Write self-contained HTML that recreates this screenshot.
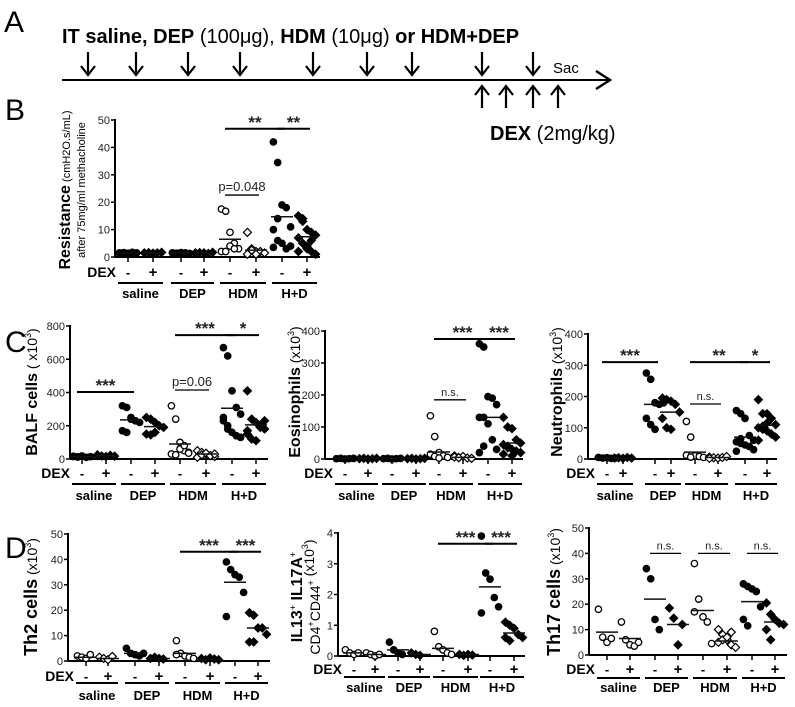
<!DOCTYPE html>
<html><head><meta charset="utf-8"><style>
body{margin:0;background:#fff;}
svg{display:block;font-family:"Liberation Sans",Arial,sans-serif;}
</style></head><body>
<svg id="fig" width="795" height="707" viewBox="0 0 795 707" xmlns="http://www.w3.org/2000/svg">
<g>
<text x="4" y="32" font-size="30">A</text>
<text x="62" y="43" font-size="20"><tspan font-weight="bold">IT saline, DEP</tspan> (100μg), <tspan font-weight="bold">HDM</tspan> (10μg) <tspan font-weight="bold">or HDM+DEP</tspan></text>
<line x1="62" y1="80" x2="608" y2="80" stroke="#000" stroke-width="2"/>
<path d="M596 71 L610 80 L596 89" fill="none" stroke="#000" stroke-width="2.5"/>
<text x="553" y="73" font-size="15">Sac</text>
<text x="490" y="140" font-size="20"><tspan font-weight="bold">DEX</tspan> (2mg/kg)</text>
<g id="arrows"></g>
</g>
<text x="5" y="120" font-size="30">B</text>
<text x="5" y="352" font-size="30">C</text>
<text x="5" y="558" font-size="30">D</text>
<g id="charts"></g>
</svg>
<script>
const NS="http://www.w3.org/2000/svg";
const svg=document.getElementById('fig');
function mk(tag,attrs,parent,txt){const e=document.createElementNS(NS,tag);for(const k in attrs)e.setAttribute(k,attrs[k]);if(txt!==undefined)e.textContent=txt;(parent||svg).appendChild(e);return e;}

const downArrowX=[88,136,188,240,313,367,412,482,533];
const upArrowX=[482,506,533,558];
const ag=document.getElementById('arrows');
downArrowX.forEach(x=>{const p=mk('path',{d:`M${x} 52 L${x} 74 M${x-7} 66 L${x} 75 L${x+7} 66`,stroke:'#000','stroke-width':2.2,fill:'none'},ag);

});
upArrowX.forEach(x=>{const p=mk('path',{d:`M${x} 108 L${x} 87 M${x-7} 95 L${x} 86 L${x+7} 95`,stroke:'#000','stroke-width':2.2,fill:'none'},ag);

});

const groups=['saline','DEP','HDM','H+D'];

const bVals=[[1.5,1.6,1.4,1.7,1.5,1.3],[1.5,1.6,1.4,1.5,1.7],[1.5,1.4,1.6,1.5,1.3],[1.4,1.6,1.5,1.3,1.7,1.5],[17.5,16.7,9,5,3,2,2,4,3],[9,3,2,2,1.5,1,2.5,1],[42,34.5,19,18,11,10,6,5,3,4,3.5,14],[15,13,10,9,8,7,5,3,2,1,2,14,4,6]];
const bMeans=[1.5,1.5,1.5,1.5,6.5,2.5,14.7,7.4];
const bTicks=[0,10,20,30,40,50];
const balfVals=[[15,12,18,10,14,16,13],[20,18,15,22,17,25],[320,310,240,230,220,170,160,250],[250,240,220,200,190,150,145,160],[320,240,100,50,40,30,25,60,80,35],[50,40,30,20,15,10,25,35,20,30],[670,620,410,310,270,230,200,160,140,130,250,180],[410,240,220,200,180,150,120,110,190,230,170]];
const balfMeans=[14,20,235,195,90,30,305,205];
const balfTicks=[0,200,400,600,800];
const eosVals=[[1,2,0,1,2],[1,2,0,1,2],[1,2,0,1,2],[1,2,0,1,2],[135,70,20,10,5,15,8,3],[10,5,8,3,2,6,4],[360,350,195,190,170,130,130,110,60,30,20,40],[130,100,95,60,50,45,35,30,25,20,15,40,10]];
const eosMeans=[2,2,2,2,22,5,130,50];
const eosTicks=[0,100,200,300,400];
const neuVals=[[5,3,4,2,3],[3,4,2,5,3],[275,255,180,175,180,130,110,95],[195,190,185,175,150,130,100,95],[120,70,10,8,5,12,6],[6,4,3,5,8,2],[155,145,130,75,60,55,50,45,40,30,25,65],[190,145,145,130,110,100,95,90,80,70,60,105,115]];
const neuMeans=[3,3,175,150,22,5,70,108];
const neuTicks=[0,100,200,300,400];
const th2Vals=[[2,1.5,1,2.5],[1.5,1,0.5,1.8],[5,3,2.5,2,3],[1,1.5,1,0.8],[8,3,2,1.5,1,2.5],[1,0.5,1.2,0.8,0.5],[39,36,34,33,27,17.5],[19,18,13,13,10.5,7.5,7.5]];
const th2Means=[1.5,1,3,1,3,0.5,31,13];
const th2Ticks=[0,10,20,30,40,50];
const ilVals=[[0.2,0.1,0.05,0.1],[0.1,0.05,0,0.05],[0.45,0.2,0.1,0.05],[0.1,0.05,0.02],[0.8,0.3,0.2,0.1,0.05],[0.05,0.02,0.05,0.03],[3.9,2.7,2.5,1.9,1.6,1.4],[1.1,1.0,0.9,0.7,0.6,0.6,0.5]];
const ilMeans=[0.1,0.05,0.2,0.05,0.25,0.05,2.25,0.75];
const ilTicks=[0,1,2,3,4];
const th17Vals=[[18,7,5,6.5],[13,6,4,3.5,5],[34,30,14,10],[18.5,14.5,4,12],[36,22,15,13,4.5,17],[10,8,6,4,3,5,6,7,9],[28,27,26,25,19,14,11.5],[20.5,16,14,12.5,12,10,6]];
const th17Means=[9,6.5,22,12,17.5,5.5,21,13];
const th17Ticks=[0,10,20,30,40,50];

const sup3='<tspan font-size="14"> (x10</tspan><tspan font-size="9" dy="-6">3</tspan><tspan font-size="14" dy="6">)</tspan>';
const panels=[
 {name:'resistance-chart',ax:115,x1:320,y0:257,yT:120,max:50,ticks:bTicks,vals:bVals,means:bMeans,tx:[128,153,181,204,230,256,282,307],dexY:277,lineY:283,labY:298,
  kinds:['fc','fd','fc','fd','oc','od','fc','fd'],
  sig:[{a:4,b:6,v:46.8,t:'**',big:1},{a:6,b:7,v:46.8,t:'**',big:1},{a:4,b:5,v:22.6,t:'p=0.048'}],
  ylab:[{x:70,t:'<tspan font-weight="bold" font-size="16">Resistance</tspan><tspan font-size="11"> (cmH2O.s/mL)</tspan>'},{x:85,t:'<tspan font-size="11">after 75mg/ml methacholine</tspan>'}],ycy:190},
 {name:'balf-chart',ax:70,x1:268,y0:459,yT:326,max:800,ticks:balfTicks,vals:balfVals,means:balfMeans,tx:[82,106,131,155,180,206,232,256],dexY:478,lineY:484,labY:500,
  kinds:['fc','fd','fc','fd','oc','od','fc','fd'],
  sig:[{a:0,b:2,v:403,t:'***',big:1},{a:4,b:6,v:745,t:'***',big:1},{a:6,b:7,v:745,t:'*',big:1},{a:4,b:5,v:415,t:'p=0.06'}],
  ylab:[{x:37,t:'<tspan font-weight="bold" font-size="16">BALF cells</tspan><tspan font-size="14"> ( x10</tspan><tspan font-size="9" dy="-6">3</tspan><tspan font-size="14" dy="6">)</tspan>'}],ycy:392},
 {name:'eosinophils-chart',ax:325,x1:523,y0:459,yT:331,max:400,ticks:eosTicks,vals:eosVals,means:eosMeans,tx:[345,368,392,416,439,463,488,512],dexY:478,lineY:484,labY:500,
  kinds:['fc','fd','fc','fd','oc','od','fc','fd'],
  sig:[{a:4,b:6,v:375,t:'***',big:1},{a:6,b:7,v:375,t:'***',big:1},{a:4,b:5,v:185,t:'n.s.'}],
  ylab:[{x:300,t:'<tspan font-weight="bold" font-size="16">Eosinophils</tspan>'+sup3}],ycy:392},
 {name:'neutrophils-chart',ax:588,x1:777,y0:459,yT:334,max:400,ticks:neuTicks,vals:neuVals,means:neuMeans,tx:[607,623,655,671,695,718,745,767],dexY:478,lineY:484,labY:500,
  kinds:['fc','fd','fc','fd','oc','od','fc','fd'],
  sig:[{a:0,b:2,v:310,t:'***',big:1},{a:4,b:6,v:310,t:'**',big:1},{a:6,b:7,v:310,t:'*',big:1},{a:4,b:5,v:176,t:'n.s.'}],
  ylab:[{x:562,t:'<tspan font-weight="bold" font-size="16">Neutrophils</tspan>'+sup3}],ycy:392},
 {name:'th2-chart',ax:68,x1:270,y0:661,yT:534,max:50,ticks:th2Ticks,vals:th2Vals,means:th2Means,tx:[86,108,135,159,185,210,235,258],dexY:681,lineY:683,labY:700,
  kinds:['oc','od','fc','fd','oc','fd','fc','fd'],
  sig:[{a:4,b:6,v:43,t:'***',big:1},{a:6,b:7,v:43,t:'***',big:1}],
  ylab:[{x:37,t:'<tspan font-weight="bold" font-size="18">Th2 cells</tspan>'+sup3}],ycy:597},
 {name:'il13-il17a-chart',ax:338,x1:525,y0:656,yT:533,max:4,ticks:ilTicks,vals:ilVals,means:ilMeans,tx:[354,375,398,420,443,468,490,514],dexY:674,lineY:677,labY:692,
  kinds:['oc','oc','fc','fd','oc','fd','fc','fd'],
  sig:[{a:4,b:6,v:3.65,t:'***',big:1},{a:6,b:7,v:3.65,t:'***',big:1}],
  ylab:[{x:302,t:'<tspan font-weight="bold" font-size="16">IL13</tspan><tspan font-size="9" dy="-6">+</tspan><tspan font-weight="bold" font-size="16" dy="6"> IL17A</tspan><tspan font-size="9" dy="-6">+</tspan>'},{x:320,t:'<tspan font-size="14">CD4</tspan><tspan font-size="9" dy="-6">+</tspan><tspan font-size="14" dy="6">CD44</tspan><tspan font-size="9" dy="-6">+</tspan>'+sup3}],ycy:597},
 {name:'th17-chart',ax:589,x1:787,y0:655,yT:528,max:50,ticks:th17Ticks,vals:th17Vals,means:th17Means,tx:[607,630,655,678,703,727,752,775],dexY:674,lineY:678,labY:692,
  kinds:['oc','oc','fc','fd','oc','od','fc','fd'],
  sig:[{a:2,b:3,v:40,t:'n.s.'},{a:4,b:5,v:40,t:'n.s.'},{a:6,b:7,v:40,t:'n.s.'}],
  ylab:[{x:560,t:'<tspan font-weight="bold" font-size="18">Th17 cells</tspan>'+sup3}],ycy:592}
];

const root=document.getElementById('charts');
panels.forEach(P=>{
 const g=mk('g',{},root);
 
 
 const ys=v=>P.y0-(v/P.max)*(P.y0-P.yT);
 const ya=mk('line',{x1:P.ax,y1:P.yT-1,x2:P.ax,y2:P.y0,stroke:'#000','stroke-width':2},g);
 
 
 const xa=mk('line',{x1:P.ax,y1:P.y0,x2:P.x1,y2:P.y0,stroke:'#000','stroke-width':2},g);
 
 
 P.ticks.forEach(t=>{const y=ys(t);
  mk('line',{x1:P.ax-4,y1:y,x2:P.ax,y2:y,stroke:'#000','stroke-width':1.5},g);
  const tl=mk('text',{x:P.ax-5,y:y+4,'font-size':11,'text-anchor':'end',fill:'#222'},g,t);
  
  });
 P.tx.forEach((x,i)=>{
  mk('line',{x1:x,y1:P.y0,x2:x,y2:P.y0+5,stroke:'#000','stroke-width':1.5},g);
  const s=mk('text',{x:x,y:P.dexY,'font-size':i%2?15:13,'font-weight':'bold','text-anchor':'middle'},g,i%2?'+':'-');
  
  
 });
 const dl=mk('text',{x:P.tx[0]-12,y:P.dexY,'font-size':14,'font-weight':'bold','text-anchor':'end'},g,'DEX');
 
 
 groups.forEach((gn,k)=>{const a=P.tx[2*k]-10,b=P.tx[2*k+1]+10;
  mk('line',{x1:a,y1:P.lineY,x2:b,y2:P.lineY,stroke:'#000','stroke-width':2},g);
  const gl=mk('text',{x:(a+b)/2,y:P.labY,'font-size':13,'font-weight':'bold','text-anchor':'middle'},g,gn);
  
  });
 P.vals.forEach((arr,gi)=>{
  const kind=P.kinds[gi];
  arr.forEach((v,j)=>{
   const x=P.tx[gi]+((j%5)-2)*4.3, y=ys(v);
   let e;
   if(kind[1]==='c') e=mk('circle',{cx:x,cy:y,r:3.2,fill:kind[0]==='f'?'#000':'#fff',stroke:'#000','stroke-width':1.3},g);
   else e=mk('path',{d:`M${x} ${y-4} L${x+4} ${y} L${x} ${y+4} L${x-4} ${y}Z`,fill:kind[0]==='f'?'#000':'#fff',stroke:'#000','stroke-width':1.2},g);
   
   
  });
  const m=mk('line',{x1:P.tx[gi]-11,y1:ys(P.means[gi]),x2:P.tx[gi]+11,y2:ys(P.means[gi]),stroke:'#111','stroke-width':1.5},g);
  
  
 });
 P.sig.forEach(s=>{const y=ys(s.v);const a=P.tx[s.a]-5,b=P.tx[s.b]+3;
  mk('line',{x1:a,y1:y,x2:b,y2:y,stroke:'#000','stroke-width':s.big?2:1.3},g);
  const t=mk('text',{x:(a+b)/2,y:s.big?y-1:y-4,'font-size':s.big?17:s.t.startsWith('p')?13:11,'font-weight':s.big?'bold':'normal','text-anchor':'middle',fill:'#222'},g,s.t);
  
  });
 P.ylab.forEach(l=>{const t=mk('text',{x:0,y:0,'text-anchor':'middle',transform:`translate(${l.x},${P.ycy}) rotate(-90)`},g);
  t.innerHTML=l.t;
  
  });
});
</script>
</body></html>
